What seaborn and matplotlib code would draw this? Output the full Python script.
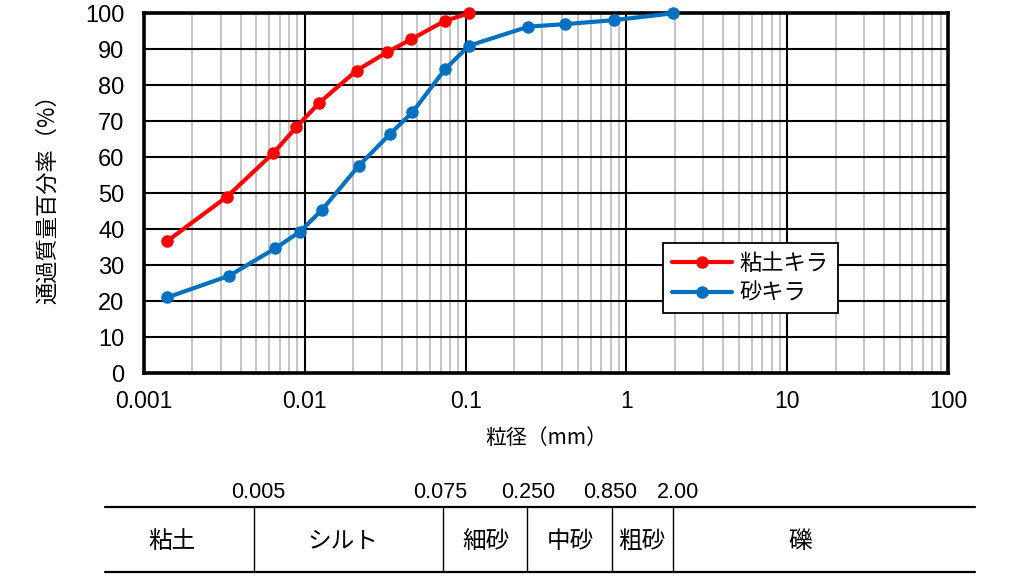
import matplotlib
matplotlib.use("Agg")
import matplotlib.pyplot as plt
import seaborn as sns
import pandas as pd
import numpy as np
from matplotlib.ticker import FixedLocator, LogLocator, NullFormatter

# ---------------- data ----------------
clay_d = [0.00140, 0.00329, 0.00635, 0.00883, 0.01234, 0.0210, 0.0325, 0.0460, 0.0743, 0.105]
clay_p = [36.8, 49.1, 61.1, 68.3, 75.2, 84.1, 89.2, 92.8, 97.9, 100.0]
sand_d = [0.00140, 0.00339, 0.00654, 0.00931, 0.0128, 0.0216, 0.0341, 0.0467, 0.0743, 0.105,
          0.246, 0.418, 0.834, 1.96]
sand_p = [21.1, 27.1, 34.7, 39.3, 45.4, 57.6, 66.6, 72.5, 84.4, 91.0,
          96.3, 97.0, 98.1, 100.0]
series_names = ["粘土キラ", "砂キラ"]
series_colors = ["#FF0000", "#0070C0"]
x_ticks = [0.001, 0.01, 0.1, 1, 10, 100]
x_tick_labels = ["0.001", "0.01", "0.1", "1", "10", "100"]
y_ticks = list(range(0, 101, 10))
boundary_labels = ["0.005", "0.075", "0.250", "0.850", "2.00"]
class_names = ["粘土", "シルト", "細砂", "中砂", "粗砂", "礫"]

df = pd.DataFrame({
    "d": clay_d + sand_d,
    "p": clay_p + sand_p,
    "series": [series_names[0]] * len(clay_d) + [series_names[1]] * len(sand_d),
})

sns.set_theme(style="white")
JP = ["Noto Sans CJK JP", "DejaVu Sans"]
NUM = ["Liberation Sans", "DejaVu Sans"]
plt.rcParams["font.family"] = JP
plt.rcParams["text.color"] = "black"
plt.rcParams["axes.labelcolor"] = "black"
plt.rcParams["xtick.color"] = "black"
plt.rcParams["ytick.color"] = "black"

fig = plt.figure(figsize=(10.24, 5.84), dpi=100)
W, H = 1024, 584
ax = fig.add_axes([144 / W, 1 - 373.3 / H, (948 - 144) / W, (373.3 - 13.3) / H])

sns.lineplot(data=df, x="d", y="p", hue="series", palette=dict(zip(series_names, series_colors)),
             marker="o", markersize=9, markeredgewidth=0, linewidth=3, sort=False,
             estimator=None, ax=ax, zorder=5, clip_on=False)

ax.set_xscale("log")
ax.set_xlim(0.001, 100)
ax.set_ylim(0, 100)
ax.xaxis.set_major_locator(FixedLocator(x_ticks))
ax.set_xticklabels(x_tick_labels, fontsize=16.5, family=NUM)
ax.xaxis.set_minor_locator(LogLocator(base=10, subs=np.arange(2, 10)))
ax.xaxis.set_minor_formatter(NullFormatter())
ax.set_yticks(y_ticks)
ax.set_yticklabels([str(v) for v in y_ticks], fontsize=17, family=NUM)
ax.tick_params(axis="x", which="both", length=0, pad=12, labelcolor="black")
ax.tick_params(axis="y", which="both", length=0, pad=14, labelcolor="black")

ax.grid(True, which="minor", axis="x", color="#B5B5B5", linewidth=1.1, zorder=0)
ax.grid(True, which="major", axis="both", color="black", linewidth=1.5, zorder=1)
ax.set_axisbelow(True)
for s in ax.spines.values():
    s.set_visible(True)
    s.set_color("black")
    s.set_linewidth(2.6)

ax.set_xlabel("粒径（mm）", fontsize=15, color="black")
ax.set_ylabel("通過質量百分率（%）", fontsize=16, color="black")
ax.xaxis.set_label_coords(0.5, -0.148)
ax.yaxis.set_label_coords(-0.105, 0.5)

leg = ax.legend(loc="upper left", bbox_to_anchor=(0.6455, 0.362), fontsize=16,
                frameon=True, fancybox=False, edgecolor="black", framealpha=1,
                handlelength=2.7, borderpad=0.4, labelspacing=0.3, handletextpad=0.35,
                borderaxespad=0)
leg.get_frame().set_linewidth(1.3)
leg.set_title(None)
for t in leg.get_texts():
    t.set_color("black")

# ---------------- soil classification table ----------------
tax = fig.add_axes([0, 0, 1, 1], facecolor="none")
tax.set_xlim(0, W)
tax.set_ylim(H, 0)
tax.axis("off")
left, right = 105, 975
top, bottom = 507, 571.5
dividers = [253.5, 442.5, 527, 612, 672.5]
tax.plot([left, right], [top, top], color="black", linewidth=1.6)
tax.plot([left, right], [bottom, bottom], color="black", linewidth=1.6)
for xd in dividers:
    tax.plot([xd, xd], [top, bottom], color="black", linewidth=1.0)
label_x = [258, 440, 528, 610, 678]
for lx, lab in zip(label_x, boundary_labels):
    tax.text(lx, 492, lab, ha="center", va="center", fontsize=15.5, family=NUM, color="black")
cell_x = [172, 343, 486, 570, 642, 800]
for cx, name in zip(cell_x, class_names):
    tax.text(cx, 542, name, ha="center", va="center", fontsize=17, family=JP, color="black")

fig.savefig("out.png", dpi=100)
